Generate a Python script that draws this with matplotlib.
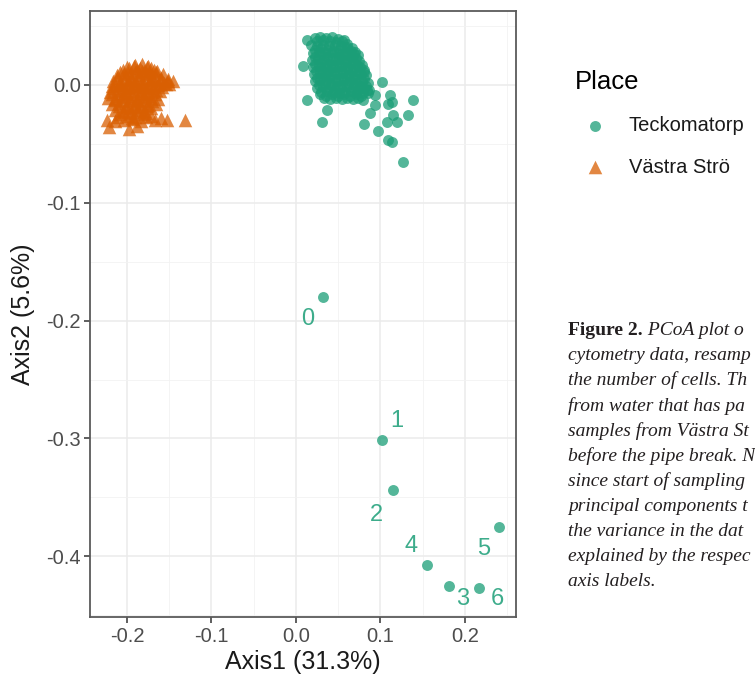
import matplotlib
matplotlib.use("Agg")
import matplotlib.pyplot as plt
from matplotlib.ticker import MultipleLocator

# ---------------- data ----------------
teck_x = [
    0.022, 0.029, 0.036, 0.043, 0.050, 0.057,
    0.025, 0.032, 0.040, 0.047, 0.054, 0.061,
    0.018, 0.025, 0.032, 0.039, 0.046, 0.053, 0.060, 0.066,
    0.022, 0.030, 0.037, 0.044, 0.051, 0.058, 0.065, 0.070,
    0.020, 0.027, 0.034, 0.041, 0.048, 0.055, 0.062, 0.069, 0.073,
    0.023, 0.030, 0.037, 0.044, 0.051, 0.058, 0.065, 0.071,
    0.019, 0.026, 0.033, 0.040, 0.047, 0.054, 0.061, 0.068, 0.075,
    0.023, 0.030, 0.037, 0.044, 0.051, 0.058, 0.065, 0.072, 0.078,
    0.020, 0.027, 0.034, 0.041, 0.048, 0.055, 0.062, 0.069, 0.076, 0.080,
    0.024, 0.031, 0.038, 0.045, 0.052, 0.059, 0.066, 0.073, 0.080,
    0.021, 0.028, 0.035, 0.042, 0.049, 0.056, 0.063, 0.070, 0.077, 0.083,
    0.025, 0.032, 0.039, 0.046, 0.053, 0.060, 0.067, 0.074, 0.081,
    0.022, 0.029, 0.036, 0.043, 0.050, 0.057, 0.064, 0.071, 0.078, 0.085,
    0.027, 0.034, 0.041, 0.048, 0.055, 0.062, 0.069, 0.076, 0.083,
    0.025, 0.032, 0.039, 0.046, 0.053, 0.060, 0.067, 0.074, 0.081, 0.087,
    0.030, 0.037, 0.044, 0.051, 0.058, 0.065, 0.072, 0.079, 0.085,
    0.029, 0.036, 0.043, 0.050, 0.057, 0.064, 0.071, 0.077,
    0.033, 0.040, 0.047, 0.054, 0.061, 0.068, 0.074,
    0.0126, 0.0079, 0.0126, 0.0363, 0.0304, 0.1014, 0.0797, 0.0935, 0.0876,
    0.1112, 0.1132, 0.1093, 0.1380, 0.1329, 0.1152, 0.1191, 0.1073, 0.0805,
    0.0974, 0.1093, 0.1132, 0.1270, 0.0935, 0.0837,
]
teck_y = [
    0.040, 0.041, 0.040, 0.041, 0.039, 0.038,
    0.037, 0.038, 0.037, 0.036, 0.037, 0.035,
    0.034, 0.033, 0.034, 0.033, 0.034, 0.033, 0.032, 0.031,
    0.030, 0.031, 0.030, 0.029, 0.030, 0.031, 0.029, 0.028,
    0.027, 0.028, 0.027, 0.028, 0.027, 0.026, 0.027, 0.026, 0.025,
    0.024, 0.025, 0.024, 0.023, 0.024, 0.025, 0.024, 0.023,
    0.021, 0.022, 0.021, 0.020, 0.021, 0.022, 0.021, 0.020, 0.020,
    0.018, 0.019, 0.018, 0.017, 0.018, 0.019, 0.018, 0.017, 0.017,
    0.015, 0.016, 0.015, 0.014, 0.015, 0.016, 0.015, 0.014, 0.015, 0.013,
    0.012, 0.013, 0.012, 0.011, 0.012, 0.013, 0.012, 0.011, 0.011,
    0.009, 0.010, 0.009, 0.008, 0.009, 0.010, 0.009, 0.008, 0.009, 0.008,
    0.006, 0.007, 0.006, 0.005, 0.006, 0.007, 0.006, 0.005, 0.005,
    0.003, 0.004, 0.003, 0.002, 0.003, 0.004, 0.003, 0.002, 0.003, 0.002,
    0.000, 0.001, 0.000, -0.001, 0.000, 0.001, 0.000, -0.001, -0.001,
    -0.003, -0.002, -0.003, -0.004, -0.003, -0.002, -0.003, -0.004, -0.003, -0.004,
    -0.006, -0.005, -0.006, -0.007, -0.006, -0.005, -0.006, -0.007, -0.007,
    -0.008, -0.009, -0.008, -0.009, -0.008, -0.009, -0.008, -0.009,
    -0.011, -0.012, -0.011, -0.012, -0.011, -0.012, -0.011,
    0.0380, 0.0164, -0.0127, -0.0212, -0.0311, 0.0028, -0.0127, -0.0169, -0.0240,
    -0.0085, -0.0141, -0.0164, -0.0127, -0.0254, -0.0254, -0.0311, -0.0311, -0.0333,
    -0.0390, -0.0466, -0.0486, -0.0650, -0.0085, -0.0042,
]

# labelled Teckomatorp samples (days since start of sampling)
day_labels = ["0", "1", "2", "3", "4", "5", "6"]
day_x = [0.0316, 0.1021, 0.1144, 0.1810, 0.1547, 0.2400, 0.2170]
day_y = [-0.180, -0.301, -0.344, -0.425, -0.407, -0.375, -0.427]
# repelled label offsets (data units)
label_dx = [-0.018, 0.017, -0.019, 0.016, -0.018, -0.018, 0.021]
label_dy = [-0.019, 0.016, -0.021, -0.011, 0.016, -0.019, -0.009]

vs_x = [
    -0.190, -0.182, -0.175,
    -0.200, -0.192, -0.184, -0.176, -0.168,
    -0.205, -0.197, -0.188, -0.180, -0.172, -0.165,
    -0.208, -0.199, -0.191, -0.182, -0.174, -0.166, -0.157,
    -0.212, -0.203, -0.195, -0.186, -0.178, -0.170, -0.160, -0.152,
    -0.212, -0.204, -0.195, -0.186, -0.178, -0.169, -0.161, -0.151,
    -0.216, -0.208, -0.199, -0.190, -0.182, -0.173, -0.165, -0.156, -0.146,
    -0.214, -0.206, -0.197, -0.189, -0.180, -0.172, -0.163, -0.154,
    -0.218, -0.210, -0.201, -0.193, -0.185, -0.176, -0.168, -0.158, -0.150,
    -0.216, -0.207, -0.199, -0.191, -0.183, -0.174, -0.166,
    -0.220, -0.212, -0.203, -0.195, -0.187, -0.179, -0.170, -0.161,
    -0.218, -0.209, -0.200, -0.192, -0.184, -0.175, -0.167,
    -0.222, -0.214, -0.205, -0.196, -0.188, -0.180, -0.171, -0.163,
    -0.214, -0.205, -0.196, -0.187, -0.179, -0.170,
    -0.218, -0.209, -0.200, -0.191, -0.183, -0.175, -0.166,
    -0.210, -0.201, -0.192, -0.184, -0.176,
    -0.214, -0.205, -0.196, -0.188, -0.180, -0.172,
    -0.204, -0.195, -0.186, -0.177,
    -0.208, -0.199, -0.190, -0.181, -0.172,
    -0.212, -0.194, -0.178, -0.160,
    -0.224, -0.214, -0.203, -0.193, -0.183, -0.167, -0.153, -0.131,
    -0.221, -0.198, -0.188,
]
vs_y = [
    0.017, 0.018, 0.016,
    0.015, 0.016, 0.014, 0.015, 0.013,
    0.013, 0.014, 0.013, 0.012, 0.014, 0.012,
    0.011, 0.010, 0.011, 0.012, 0.010, 0.011, 0.009,
    0.008, 0.009, 0.007, 0.008, 0.009, 0.007, 0.006, 0.005,
    0.006, 0.005, 0.006, 0.005, 0.006, 0.005, 0.004, 0.003,
    0.003, 0.002, 0.004, 0.003, 0.002, 0.004, 0.003, 0.002, 0.003,
    0.001, 0.000, 0.001, 0.002, 0.000, 0.001, 0.000, 0.001,
    -0.001, 0.000, -0.002, -0.001, 0.000, -0.002, -0.001, -0.002, 0.001,
    -0.003, -0.004, -0.003, -0.002, -0.004, -0.003, -0.004,
    -0.006, -0.005, -0.007, -0.006, -0.005, -0.007, -0.006, -0.005,
    -0.008, -0.009, -0.008, -0.009, -0.008, -0.009, -0.008,
    -0.011, -0.012, -0.010, -0.011, -0.012, -0.010, -0.011, -0.012,
    -0.013, -0.014, -0.013, -0.014, -0.013, -0.014,
    -0.016, -0.015, -0.017, -0.016, -0.015, -0.017, -0.016,
    -0.018, -0.019, -0.018, -0.019, -0.018,
    -0.021, -0.022, -0.020, -0.021, -0.022, -0.020,
    -0.023, -0.024, -0.023, -0.024,
    -0.025, -0.026, -0.027, -0.025, -0.026,
    -0.027, -0.028, -0.027, -0.028,
    -0.030, -0.031, -0.030, -0.029, -0.031, -0.030, -0.030, -0.030,
    -0.036, -0.037, -0.035,
]

places = ["Teckomatorp", "Västra Strö"]
x_title = "Axis1 (31.3%)"
y_title = "Axis2 (5.6%)"
legend_title = "Place"
caption_bold = "Figure 2."
caption_lines = [
    " PCoA plot o",
    "cytometry data, resamp",
    "the number of cells. Th",
    "from water that has pa",
    "samples from Västra St",
    "before the pipe break. N",
    "since start of sampling",
    "principal components t",
    "the variance in the dat",
    "explained by the respec",
    "axis labels.",
]

# ---------------- style ----------------
plt.rcParams["font.family"] = ["Liberation Sans", "DejaVu Sans"]
green = "#1b9e77"
orange = "#d95f02"

fig = plt.figure(figsize=(7.55, 6.8), dpi=100)
ax = fig.add_axes([0.1197, 0.0926, 0.5637, 0.8912])

ax.set_xlim(-0.2433, 0.2604)
ax.set_ylim(-0.4515, 0.0627)

ax.xaxis.set_major_locator(MultipleLocator(0.1))
ax.yaxis.set_major_locator(MultipleLocator(0.1))
ax.xaxis.set_minor_locator(MultipleLocator(0.05))
ax.yaxis.set_minor_locator(MultipleLocator(0.05))
ax.grid(which="major", color="#ebebeb", lw=1.1, zorder=0)
ax.grid(which="minor", color="#f2f2f2", lw=0.6, zorder=0)
ax.set_axisbelow(True)
ax.tick_params(which="minor", length=0)
ax.tick_params(which="major", direction="out", length=4, width=1.1,
               color="#333333", labelsize=14.5, labelcolor="#4d4d4d", pad=3)
fmt = plt.FuncFormatter(lambda v, p: f"{v:.1f}".replace("-0.0", "0.0"))
ax.xaxis.set_major_formatter(fmt)
ax.yaxis.set_major_formatter(fmt)
for s in ax.spines.values():
    s.set_color("#5a5a5a")
    s.set_linewidth(1.3)

h_t = ax.scatter(teck_x + day_x, teck_y + day_y, s=62, marker="o", color=green,
                 alpha=0.75, linewidths=0, label=places[0], zorder=3)
h_v = ax.scatter(vs_x, vs_y, s=95, marker="^", color=orange, alpha=0.75,
                 linewidths=0, label=places[1], zorder=3)

for lab, x, y, dx, dy in zip(day_labels, day_x, day_y, label_dx, label_dy):
    ax.text(x + dx, y + dy, lab, color=green, alpha=0.85, fontsize=17,
            ha="center", va="center", zorder=4)

ax.set_xlabel(x_title, fontsize=18, color="#1a1a1a", labelpad=3)
ax.set_ylabel(y_title, fontsize=18, color="#1a1a1a", labelpad=8)

leg = fig.legend(handles=[h_t, h_v], labels=places, title=legend_title,
                 loc="upper left", bbox_to_anchor=(0.7500, 0.910),
                 frameon=False, fontsize=14.5, title_fontsize=18.5,
                 handletextpad=0.65, labelspacing=1.1, markerscale=1.0,
                 borderaxespad=0, borderpad=0.45)
leg._legend_box.align = "left"
for t in leg.get_texts():
    t.set_color("#1a1a1a")

# caption (cut off at the figure edge, as in the reference)
cap_x = 568 / 755
cap_y0 = 1 - 330 / 680
line_h = 25.2 / 680
cap_font = ["Liberation Serif", "DejaVu Serif"]
t0 = fig.text(cap_x, cap_y0, caption_bold, fontsize=14, fontweight="bold",
              family=cap_font, color="#231f20", va="center", ha="left")
fig.canvas.draw()
bb = t0.get_window_extent()
fig.text(bb.x1 / fig.bbox.width, cap_y0, caption_lines[0], fontsize=14,
         style="italic", family=cap_font, color="#231f20", va="center", ha="left")
for i, line in enumerate(caption_lines[1:], start=1):
    fig.text(cap_x, cap_y0 - i * line_h, line, fontsize=14, style="italic",
             family=cap_font, color="#231f20", va="center", ha="left")

fig.savefig("out.png", dpi=100)
